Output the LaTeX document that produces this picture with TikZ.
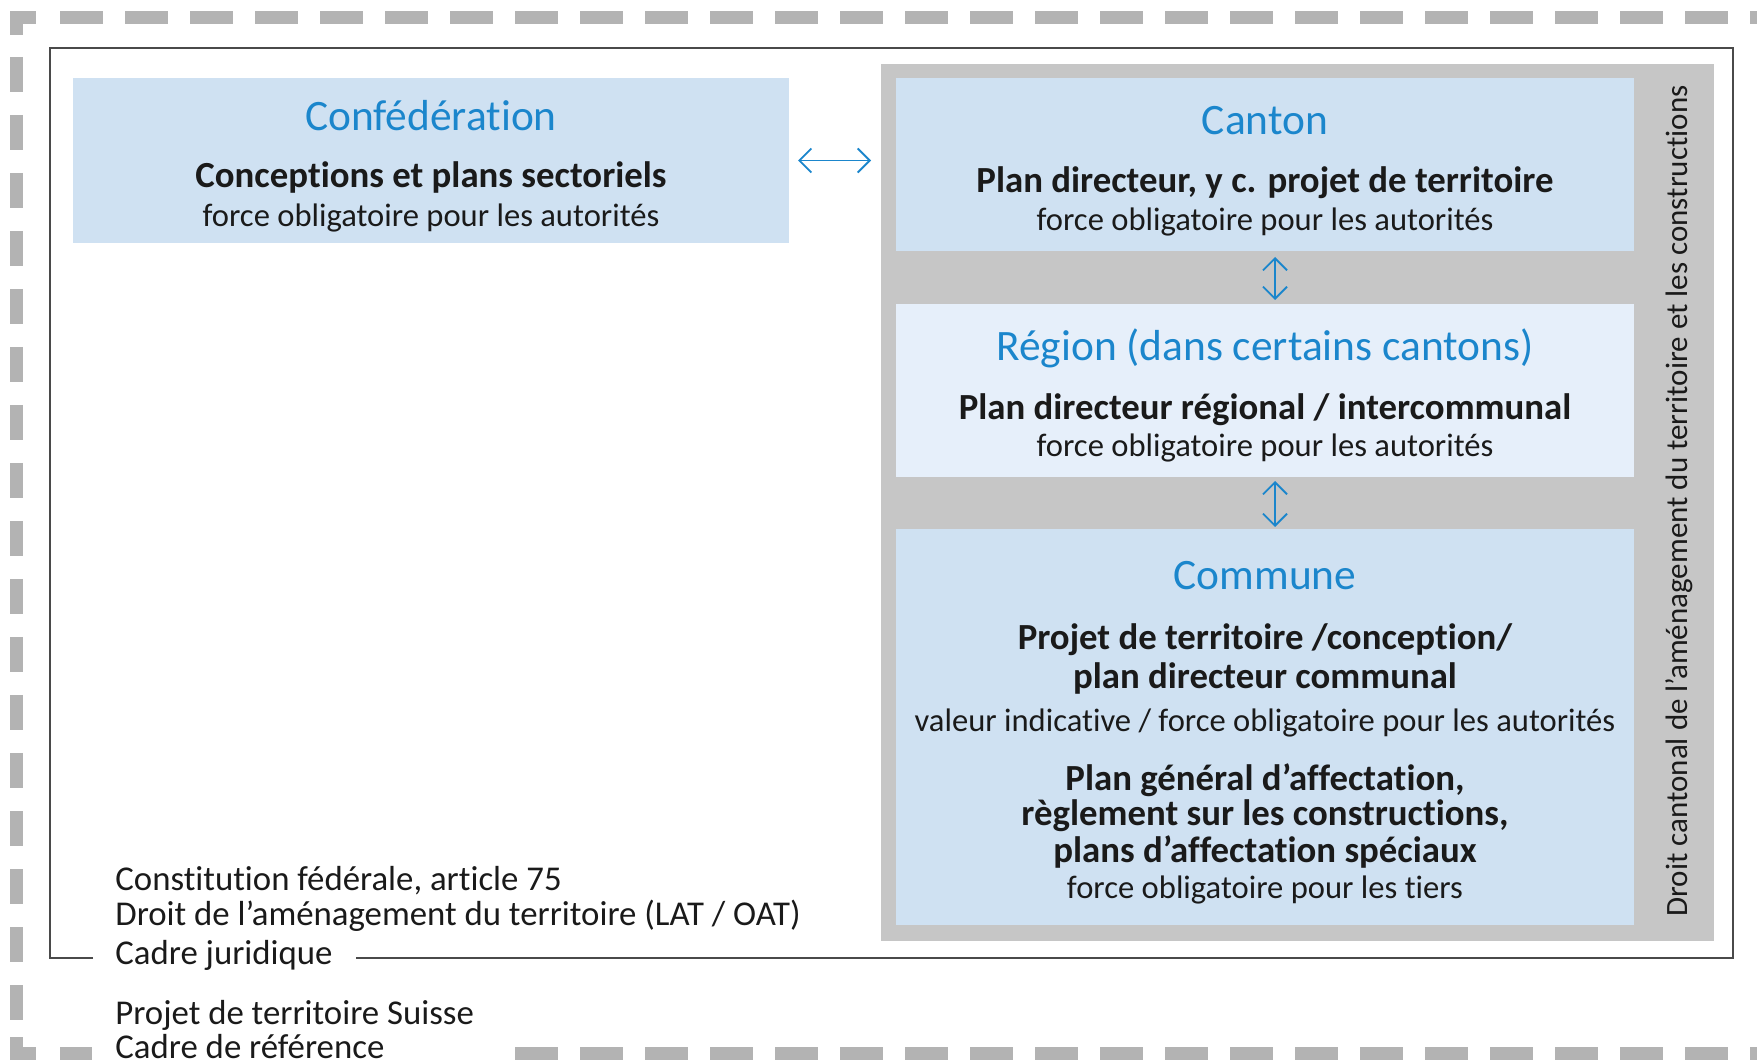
\documentclass[tikz,border=0pt]{standalone}
\usepackage{fontspec}
\setmainfont{Carlito}[Ligatures={NoCommon}]
\usetikzlibrary{arrows.meta,fit}
\definecolor{boxblue}{HTML}{CFE1F2}
\definecolor{boxlight}{HTML}{E6EFFA}
\definecolor{panelgray}{HTML}{C6C6C6}
\definecolor{dashgray}{HTML}{B3B3B3}
\definecolor{titleblue}{HTML}{1B86CC}
\definecolor{framegray}{HTML}{4A4A4A}
\definecolor{textdark}{HTML}{1A1A1A}
\begin{document}
\begin{tikzpicture}[x=0.5pt,y=-0.5pt,
  box/.style={inner sep=0pt,outer sep=0pt,fill=boxblue},
  ttl/.style={anchor=base,text=titleblue,font=\fontsize{21.7}{26}\selectfont,inner sep=0pt},
  bld/.style={anchor=base,text=textdark,font=\fontsize{18.4}{22}\selectfont\bfseries,inner sep=0pt},
  reg/.style={anchor=base,text=textdark,font=\fontsize{16.3}{20}\selectfont,inner sep=0pt},
  lft/.style={anchor=base west,text=textdark,font=\fontsize{17.4}{21}\selectfont,inner sep=0pt},
  biarrow/.style={draw=titleblue,line width=0.9pt,{Straight Barb[length=6pt,width=12pt]}-{Straight Barb[length=6pt,width=12pt]}},
  dashline/.style={draw=dashgray,line width=6.5pt},
]
\useasboundingbox (0,0) rectangle (1757,1063);
% outer dashed frame (reference frame)
\draw[dashline] (16,35) -- (16,18) -- (36,18);
\draw[dashline,dash pattern=on 21.5pt off 11pt] (60,18) -- (1757,18);
\draw[dashline,dash pattern=on 17.5pt off 11.5pt] (16,57) -- (16,1020);
\draw[dashline] (16,1037) -- (16,1053) -- (36,1053);
\draw[dashline] (60,1053) -- (92,1053);
\draw[dashline,dash pattern=on 21.5pt off 11pt] (515,1053) -- (1757,1053);
% inner frame (legal frame)
\draw[framegray,line width=1pt] (93,958) -- (50,958) -- (50,48) -- (1733,48) -- (1733,958) -- (356,958);
% boxes
\node[box,fill=panelgray,fit={(881,64)(1714,941)}] (panel) {};
\node[box,fit={(73,78)(789,243)}] (conf) {};
\node[box,fit={(896,78)(1634,251)}] (canton) {};
\node[box,fill=boxlight,fit={(896,304)(1634,477)}] (region) {};
\node[box,fit={(896,529)(1634,925)}] (commune) {};
% Confederation
\node[ttl] (conft) at (431,131) {Confédération};
\node[bld] (confb) at (431,188) {Conceptions et plans sectoriels};
\node[reg] (confr) at (431,227) {force obligatoire pour les autorités};
% Canton
\node[ttl] (cantont) at (1265,135) {Canton};
\node[bld] (cantonb) at (1265,193) {Plan directeur, y c. projet de territoire};
\node[reg] (cantonr) at (1265,231) {force obligatoire pour les autorités};
% Region
\node[ttl] (regiont) at (1265,361) {Région (dans certains cantons)};
\node[bld] (regionb) at (1265,420) {Plan directeur régional / intercommunal};
\node[reg] (regionr) at (1265,457) {force obligatoire pour les autorités};
% Commune
\node[ttl] (communet) at (1265,590) {Commune};
\node[bld] (communeb1) at (1265,650) {Projet de territoire /conception/};
\node[bld] (communeb2) at (1265,689) {plan directeur communal};
\node[reg] (communer1) at (1265,732) {valeur indicative / force obligatoire pour les autorités};
\node[bld] (communeb3) at (1265,791) {Plan général d’affectation,};
\node[bld] (communeb4) at (1265,826) {règlement sur les constructions,};
\node[bld] (communeb5) at (1265,862) {plans d’affectation spéciaux};
\node[reg] (communer2) at (1265,898) {force obligatoire pour les tiers};
% rotated
\node[anchor=base,rotate=90,text=textdark,font=\fontsize{15.5}{18}\selectfont,inner sep=0pt] (droit) at (1687,501) {Droit cantonal de l’aménagement du territoire et les constructions};
% left texts
\node[lft] (const) at (115,890) {Constitution fédérale, article 75};
\node[lft] (lat) at (115,925) {Droit de l’aménagement du territoire (LAT / OAT)};
\node[lft] (cadrej) at (115,964) {Cadre juridique};
\node[lft] (suisse) at (115,1024) {Projet de territoire Suisse};
\node[lft] (cadrer) at (115,1058) {Cadre de référence};
% arrows
\draw[biarrow] ([xshift=4.5pt]conf.east) -- ([xshift=-5pt]conf.east -| panel.west);
\draw[biarrow] ([xshift=5pt,yshift=-3pt]canton.south) -- ([xshift=5pt,yshift=2pt]region.north);
\draw[biarrow] ([xshift=5pt,yshift=-2pt]region.south) -- ([xshift=5pt,yshift=1pt]commune.north);
\end{tikzpicture}
\end{document}
